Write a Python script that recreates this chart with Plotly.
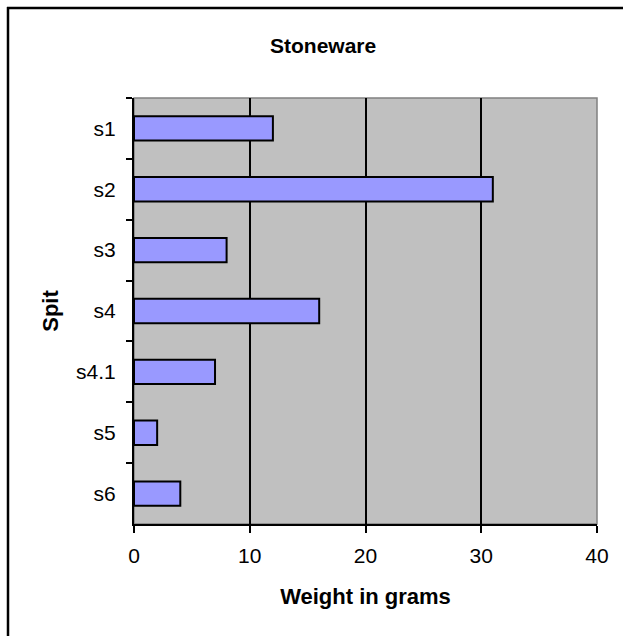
import plotly.graph_objects as go

# Stoneware weight per spit
spits = ["s1", "s2", "s3", "s4", "s4.1", "s5", "s6"]
weights = [12, 31, 8, 16, 7, 2, 4]
x_ticks = [0, 10, 20, 30, 40]

FONT = "Liberation Sans, Arial, sans-serif"

# plot-area geometry in pixels (used for the outer frame)
W, H = 623, 636
L, R, T, B = 134, 26, 98, 112
pw, ph = W - L - R, H - T - B


def px_to_paper_x(px):
    return (px - L) / pw


def px_to_paper_y(py):
    return (H - B - py) / ph


fig = go.Figure(
    go.Bar(
        x=weights,
        y=spits,
        orientation="h",
        width=0.4,
        marker=dict(color="#9999FF", line=dict(color="black", width=2)),
    )
)

fig.update_layout(
    width=W,
    height=H,
    margin=dict(l=L, r=R, t=T, b=B),
    paper_bgcolor="white",
    plot_bgcolor="#C0C0C0",
    showlegend=False,
    font=dict(family=FONT, size=21, color="black"),
    xaxis=dict(
        range=[0, 40],
        tickvals=x_ticks,
        showgrid=True,
        gridcolor="black",
        gridwidth=1.6,
        zeroline=False,
        showline=True,
        linecolor="black",
        linewidth=1.8,
        ticks="outside",
        ticklen=7,
        tickwidth=1.6,
        tickcolor="black",
        ticklabelstandoff=5,
        title=dict(text="<b>Weight in grams</b>", font=dict(size=22), standoff=23),
    ),
    yaxis=dict(
        autorange="reversed",
        showgrid=False,
        zeroline=False,
        showline=True,
        linecolor="black",
        linewidth=2,
        ticks="outside",
        tickson="boundaries",
        ticklen=6,
        tickwidth=1.6,
        tickcolor="black",
        ticklabelstandoff=12,
        title=dict(text="<b>Spit</b>", font=dict(size=22), standoff=11),
    ),
    shapes=[
        # grey frame on the top and right of the plot area
        dict(
            type="rect", xref="paper", yref="paper",
            x0=0, x1=1, y0=0, y1=1,
            line=dict(color="#808080", width=1.5),
            layer="between",
        ),
        # outer chart frame: top edge
        dict(
            type="line", xref="paper", yref="paper",
            x0=px_to_paper_x(7), x1=px_to_paper_x(623),
            y0=px_to_paper_y(8), y1=px_to_paper_y(8),
            line=dict(color="black", width=2.5),
        ),
        # outer chart frame: left edge
        dict(
            type="line", xref="paper", yref="paper",
            x0=px_to_paper_x(8), x1=px_to_paper_x(8),
            y0=px_to_paper_y(7), y1=px_to_paper_y(636),
            line=dict(color="black", width=2.5),
        ),
    ],
    annotations=[
        dict(
            text="<b>Stoneware</b>",
            xref="paper", yref="paper",
            x=px_to_paper_x(323), y=px_to_paper_y(45),
            xanchor="center", yanchor="middle",
            showarrow=False,
            font=dict(family=FONT, size=21, color="black"),
        )
    ],
)

fig.write_html("out.html")
